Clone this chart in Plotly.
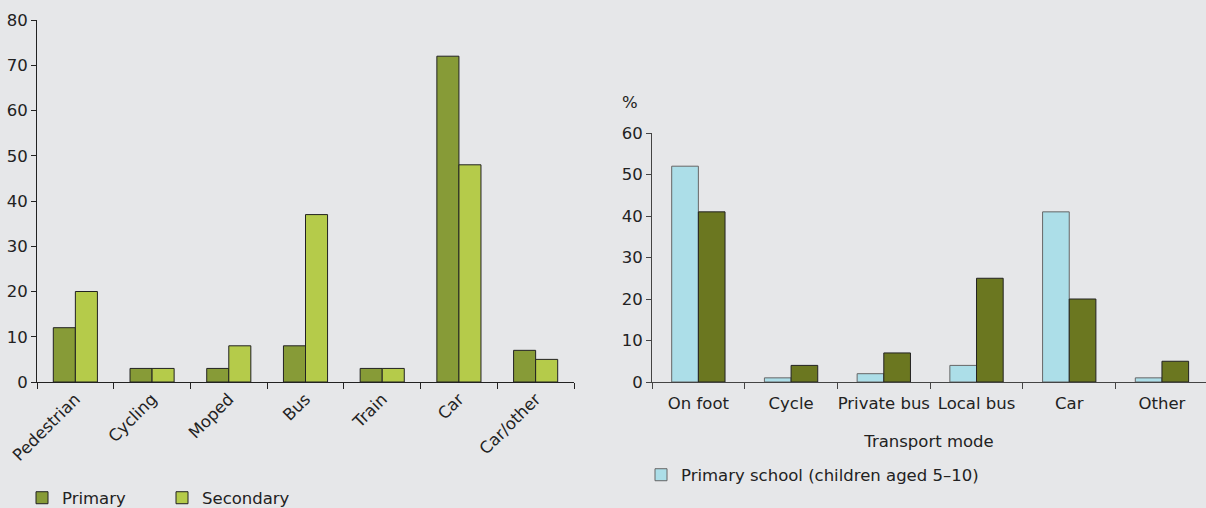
import plotly.graph_objects as go

# left panel: share of trips by transport mode
modes_left = ['Pedestrian', 'Cycling', 'Moped', 'Bus', 'Train', 'Car', 'Car/other']
primary_left = [12, 3, 3, 8, 3, 72, 7]
secondary_left = [20, 3, 8, 37, 3, 48, 5]

# right panel: transport mode to school (%)
modes_right = ['On foot', 'Cycle', 'Private bus', 'Local bus', 'Car', 'Other']
primary_school = [52, 1, 2, 4, 41, 1]
secondary_school = [41, 4, 7, 25, 20, 5]

W, H = 1206, 508
FONT = 'Verdana, DejaVu Sans, sans-serif'
FS = 16.5
BG = '#e6e7e9'


def px_x(p):
    return p / W


def px_y(p):
    return 1 - p / H


fig = go.Figure()

fig.add_trace(go.Bar(
    x=modes_left, y=primary_left, name='Primary',
    marker=dict(color='#879b37', line=dict(color='#222', width=1)),
    xaxis='x', yaxis='y', legend='legend',
))
fig.add_trace(go.Bar(
    x=modes_left, y=secondary_left, name='Secondary',
    marker=dict(color='#b5cb4a', line=dict(color='#222', width=1)),
    xaxis='x', yaxis='y', legend='legend',
))
fig.add_trace(go.Bar(
    x=modes_right, y=primary_school, name='Primary school (children aged 5–10)',
    marker=dict(color='#acdee8', line=dict(color='#666', width=1)),
    xaxis='x2', yaxis='y2', legend='legend2',
))
fig.add_trace(go.Bar(
    x=modes_right, y=secondary_school, name='Secondary school',
    marker=dict(color='#6b7720', line=dict(color='#222', width=1)),
    xaxis='x2', yaxis='y2', showlegend=False,
))

axis_common = dict(
    showgrid=False, zeroline=False, showline=True, automargin=False,
    ticks='outside', ticklen=6, tickcolor='#222', linecolor='#222',
    tickfont=dict(size=FS, color='#222', family=FONT),
)

fig.update_layout(
    width=W, height=H,
    margin=dict(l=0, r=0, t=0, b=0, autoexpand=False),
    paper_bgcolor=BG, plot_bgcolor=BG,
    font=dict(family=FONT, size=FS, color='#222'),
    barmode='group', bargap=0.425, bargroupgap=0,
    xaxis=dict(
        axis_common, domain=[px_x(37), px_x(574)], anchor='y',
        tickson='boundaries', tickangle=-45, range=[-0.5, 6.5],
    ),
    yaxis=dict(
        axis_common, domain=[px_y(382), px_y(20)], anchor='x',
        range=[0, 80], dtick=10, ticklen=5,
    ),
    xaxis2=dict(
        axis_common, domain=[px_x(652), 1], anchor='y2',
        tickson='boundaries', tickangle=0, range=[-0.5, 5.475],
        linecolor='#444', tickcolor='#444', ticklabelstandoff=6,
        title=dict(text='Transport mode', standoff=23, font=dict(size=FS)),
    ),
    yaxis2=dict(
        axis_common, domain=[px_y(382), px_y(133)], anchor='x2',
        range=[0, 60], dtick=10, ticklen=5, linecolor='#444', tickcolor='#444',
    ),
    legend=dict(
        orientation='h', x=px_x(22), y=px_y(498), xanchor='left', yanchor='middle',
        bgcolor='rgba(0,0,0,0)', font=dict(size=FS), entrywidth=95,
        traceorder='normal',
    ),
    legend2=dict(
        orientation='h', x=px_x(641), y=px_y(475), xanchor='left', yanchor='middle',
        bgcolor='rgba(0,0,0,0)', font=dict(size=FS),
    ),
    annotations=[dict(
        text='%', xref='paper', yref='paper', x=px_x(620), y=px_y(103),
        xanchor='left', yanchor='middle', showarrow=False, font=dict(size=FS),
    )],
)

fig.write_html(
    'out.html',
    config={'displayModeBar': False},
    post_script="document.body.style.margin='0';",
)
